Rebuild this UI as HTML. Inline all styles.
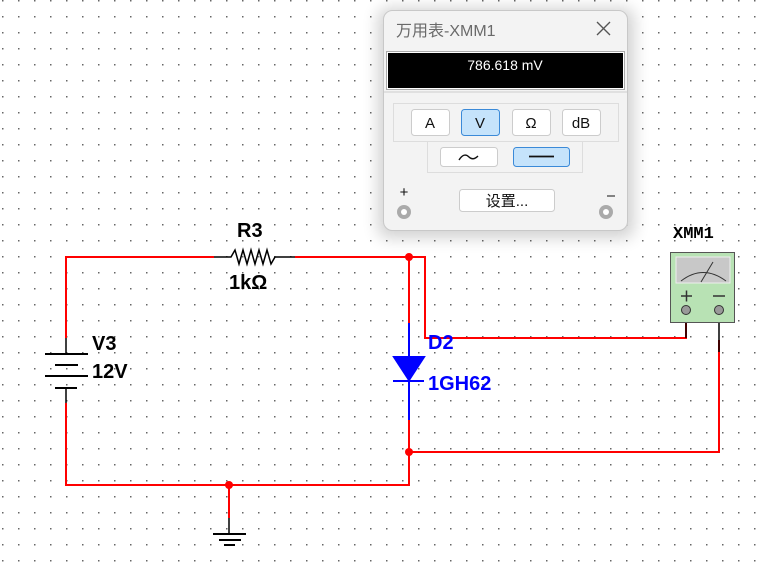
<!DOCTYPE html>
<html><head><meta charset="utf-8"><style>
html,body{margin:0;padding:0;width:759px;height:563px;overflow:hidden;background:#fff;}
</style></head><body>
<svg width="759" height="563" xmlns="http://www.w3.org/2000/svg" style="position:absolute;left:0;top:0">
<defs>
<pattern id="g" x="2" y="0" width="16" height="16" patternUnits="userSpaceOnUse">
<rect x="0" y="0" width="1.5" height="1.5" fill="#666"/>
</pattern>
<filter id="sh" x="-20%" y="-20%" width="140%" height="140%"><feGaussianBlur stdDeviation="8"/></filter>
</defs>
<rect width="759" height="563" fill="url(#g)"/>
<g fill="none" stroke="#f00" stroke-width="2">
<polyline points="66,338 66,257 214,257"/>
<polyline points="295,257 409,257 409,323"/>
<polyline points="409,257 425,257 425,338 686,338 686,322"/>
<polyline points="66,403 66,485 409,485 409,420"/>
<polyline points="409,452 719,452 719,340"/>
<polyline points="229,485 229,518"/>
</g>
<circle cx="409" cy="257" r="4" fill="#f00"/>
<circle cx="409" cy="452" r="4" fill="#f00"/>
<circle cx="229" cy="485" r="4" fill="#f00"/>
<g fill="none" stroke="#000" stroke-width="1.5">
<polyline points="214,257 231,257 235,250 239,264 243,250 247,264 251,250 255,264 259,250 263,264 267,250 271,264 275,257 295,257"/>
<line x1="66" y1="338" x2="66" y2="354"/>
<line x1="45" y1="354" x2="88" y2="354" stroke-width="2"/>
<line x1="55" y1="365" x2="78" y2="365" stroke-width="2"/>
<line x1="45" y1="376" x2="88" y2="376" stroke-width="2"/>
<line x1="55" y1="388" x2="77" y2="388" stroke-width="2"/>
<line x1="66" y1="388" x2="66" y2="403"/>
<line x1="229" y1="518" x2="229" y2="534"/>
<line x1="213" y1="534" x2="246" y2="534" stroke-width="2"/>
<line x1="219" y1="540" x2="241" y2="540" stroke-width="2"/>
<line x1="224" y1="545" x2="235" y2="545" stroke-width="2"/>
<line x1="686" y1="310" x2="686" y2="338"/>
<line x1="719" y1="310" x2="719" y2="352"/>
</g>
<g stroke="#00f" stroke-width="2" fill="#00f">
<line x1="409" y1="323" x2="409" y2="420"/>
<polygon points="394,357 424,357 409,380"/>
<line x1="393" y1="381" x2="424" y2="381"/>
</g>
<g font-family="Liberation Sans, sans-serif" font-weight="bold" font-size="20">
<text x="237" y="237" fill="#000">R3</text>
<text x="229" y="289" fill="#000">1kΩ</text>
<text x="92" y="350" fill="#000">V3</text>
<text x="92" y="378" fill="#000">12V</text>
<text x="428" y="349" fill="#00f">D2</text>
<text x="428" y="390" fill="#00f">1GH62</text>
</g>
<text x="673" y="238" font-family="Liberation Mono, monospace" font-weight="bold" font-size="17" fill="#000">XMM1</text>
<rect x="670.5" y="252.5" width="64" height="70" fill="#b8e2b4" stroke="#555"/>
<rect x="676" y="257" width="54" height="26" fill="#c8c8c8" stroke="#eee"/>
<path d="M681 281 Q703 264 726 281" fill="none" stroke="#333"/>
<line x1="701" y1="282" x2="713" y2="262" stroke="#333"/>
<line x1="681" y1="296" x2="692" y2="296" stroke="#333" stroke-width="1.5"/>
<line x1="686.5" y1="290.5" x2="686.5" y2="301.5" stroke="#333" stroke-width="1.5"/>
<line x1="713" y1="296" x2="725" y2="296" stroke="#333" stroke-width="1.5"/>
<circle cx="686" cy="310" r="4.5" fill="#999" stroke="#333"/>
<circle cx="719" cy="310" r="4.5" fill="#999" stroke="#333"/>
<rect x="378" y="8" width="256" height="230" rx="10" fill="#000" opacity="0.18" filter="url(#sh)"/>
<rect x="383.5" y="10.5" width="244" height="220" rx="9" fill="#f3f3f3" stroke="#c8c8c8"/>
<text x="396" y="36" font-family="Liberation Sans, 'Noto Sans CJK SC', sans-serif" font-size="16" fill="#6a6a6a">万用表-XMM1</text>
<g stroke="#555" stroke-width="1.3"><line x1="597" y1="22" x2="610" y2="35"/><line x1="610" y1="22" x2="597" y2="35"/></g>
<rect x="386.5" y="51.5" width="238" height="38" fill="#fff" stroke="#aaa"/>
<rect x="388" y="53" width="235" height="35" fill="#000"/>
<text x="505" y="70" text-anchor="middle" font-family="Liberation Sans, sans-serif" font-size="14" fill="#fff">786.618 mV</text>
<line x1="384" y1="92" x2="627" y2="92" stroke="#ccc"/>
<rect x="393.5" y="103.5" width="225" height="38" fill="none" stroke="#ddd"/>
<rect x="427.5" y="141.5" width="155" height="31" fill="none" stroke="#ddd"/>
<g font-family="Liberation Sans, 'Noto Sans CJK SC', sans-serif" font-size="15" text-anchor="middle" fill="#111">
<rect x="411.5" y="109.5" width="38" height="26" rx="3" fill="#fff" stroke="#ccc"/><text x="430" y="128">A</text>
<rect x="461.5" y="109.5" width="38" height="26" rx="3" fill="#c5e3fb" stroke="#3b8ad8"/><text x="480" y="128">V</text>
<rect x="512.5" y="109.5" width="38" height="26" rx="3" fill="#fff" stroke="#ccc"/><text x="531" y="128">Ω</text>
<rect x="562.5" y="109.5" width="38" height="26" rx="3" fill="#fff" stroke="#ccc"/><text x="581" y="128">dB</text>
<rect x="440.5" y="147.5" width="57" height="19" rx="3" fill="#fff" stroke="#ccc"/>
<path d="M459 160 Q464 152 469 157 Q473 161 478 156" fill="none" stroke="#111" stroke-width="1.4"/>
<rect x="513.5" y="147.5" width="56" height="19" rx="3" fill="#c5e3fb" stroke="#3b8ad8"/>
<line x1="529" y1="156.5" x2="554" y2="156.5" stroke="#111" stroke-width="1.8"/>
<rect x="459.5" y="189.5" width="95" height="22" rx="3" fill="#fff" stroke="#ccc"/><text x="507" y="206">设置...</text>
</g>
<text x="404" y="197" text-anchor="middle" font-family="Liberation Sans, sans-serif" font-size="15" fill="#111">+</text>
<line x1="607" y1="196" x2="615" y2="196" stroke="#111"/>
<circle cx="404" cy="212" r="7" fill="#aaa"/><circle cx="404" cy="212" r="3" fill="#fff"/>
<circle cx="606" cy="212" r="7" fill="#aaa"/><circle cx="606" cy="212" r="3" fill="#fff"/>
</svg>
</body></html>
